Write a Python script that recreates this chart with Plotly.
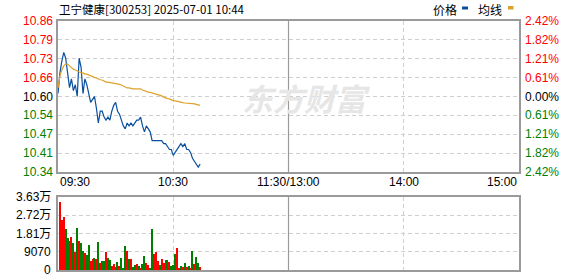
import plotly.graph_objects as go

# ---------------- data ----------------
stock_title = "卫宁健康[300253] 2025-07-01 10:44"
prev_close = 10.60
pct_max = 2.42

# minute index from 09:30 (0) ... 10:44 (74)
price = [10.61, 10.68, 10.72, 10.75, 10.73, 10.68, 10.63, 10.66, 10.62, 10.64,
         10.60, 10.73, 10.70, 10.61, 10.66, 10.64, 10.61, 10.58, 10.59, 10.60,
         10.56, 10.51, 10.55, 10.55, 10.53, 10.52, 10.53, 10.52, 10.55, 10.57,
         10.58, 10.55, 10.54, 10.52, 10.50, 10.49, 10.51, 10.50, 10.51, 10.50,
         10.51, 10.52, 10.52, 10.53, 10.50, 10.48, 10.50, 10.49, 10.48, 10.45,
         10.45, 10.45, 10.45, 10.45, 10.45, 10.44, 10.44, 10.43, 10.42, 10.42,
         10.40, 10.41, 10.42, 10.43, 10.44, 10.43, 10.44, 10.42, 10.42, 10.41,
         10.39, 10.38, 10.37, 10.36, 10.37]

avg_price = [10.629, 10.670, 10.690, 10.704, 10.710, 10.710, 10.704, 10.697, 10.693, 10.690,
             10.687, 10.683, 10.680, 10.680, 10.676, 10.676, 10.673, 10.670, 10.666, 10.665,
             10.663, 10.659, 10.657, 10.656, 10.653, 10.649, 10.649, 10.648, 10.646, 10.646,
             10.644, 10.642, 10.641, 10.639, 10.636, 10.632, 10.629, 10.629, 10.627, 10.626,
             10.626, 10.626, 10.626, 10.626, 10.622, 10.619, 10.617, 10.615, 10.614, 10.612,
             10.610, 10.609, 10.605, 10.604, 10.602, 10.598, 10.595, 10.593, 10.592, 10.588,
             10.586, 10.585, 10.583, 10.581, 10.580, 10.579, 10.578, 10.578, 10.578, 10.578,
             10.576, 10.575, 10.573, 10.571, 10.570]

# volume bars for 09:31 ... 10:44
vol_minutes = list(range(1, 75))
volume = [33970, 24855, 26510, 20380, 16070, 14420, 16570, 13590, 8950, 21040,
          14420, 13260, 9450, 8290, 7460, 12430, 4470, 5470, 6130, 5470,
          14080, 3650, 4470, 4470, 9110, 6130, 4970, 2150, 2980, 1660,
          4140, 2150, 6130, 1160, 12100, 9450, 5470, 5470, 1660, 2490,
          2980, 2150, 1160, 2980, 7130, 3310, 2490, 500, 20380, 7790,
          9110, 4470, 2490, 5470, 3310, 4970, 4970, 4140, 1990, 2490,
          7950, 10770, 1160, 1990, 1660, 3310, 1330, 1990, 1160, 9610,
          3150, 6630, 3310, 1660]
vol_dir = ['R', 'R', 'R', 'G', 'G', 'G', 'R', 'G', 'R', 'G',
           'R', 'G', 'G', 'R', 'G', 'G', 'R', 'R', 'G', 'R',
           'G', 'R', 'G', 'G', 'R', 'G', 'G', 'R', 'R', 'R',
           'G', 'R', 'G', 'G', 'G', 'R', 'G', 'R', 'G', 'G',
           'R', 'G', 'R', 'G', 'G', 'R', 'R', 'G', 'G', 'R',
           'R', 'R', 'G', 'R', 'R', 'G', 'G', 'R', 'G', 'G',
           'G', 'R', 'R', 'G', 'R', 'G', 'R', 'G', 'R', 'G',
           'R', 'G', 'G', 'R']

time_tick_minutes = [0, 60, 120, 180, 240]
time_tick_labels = ['09:30', '10:30', '11:30/13:00', '14:00', '15:00']

price_tick_labels = ['10.86', '10.79', '10.73', '10.66', '10.60', '10.54', '10.47', '10.41', '10.34']
pct_tick_labels = ['2.42%', '1.82%', '1.21%', '0.61%', '0.00%', '0.61%', '1.21%', '1.82%', '2.42%']
pct_tick_fracs = [1, 0.75, 0.5, 0.25, 0, -0.25, -0.5, -0.75, -1]

vol_tick_values = [0, 9070, 18140, 27210, 36280]
vol_tick_labels = ['0', '9070', '1.81万', '2.72万', '3.63万']

legend_names = ['价格', '均线']

# ---------------- styling ----------------
W, H = 578, 276
RED, GREEN, BLACK = '#ff0000', '#008000', '#000000'
BLUE, GOLD = '#0a4f9e', '#dda22a'
FRAME, GRID = '#9a9a9a', '#cfcfcf'
FONT = 'Liberation Sans, Arial, sans-serif'
CJK = 'Noto Sans CJK SC, sans-serif'

def px_x(x):
    return x / W

def px_y(y):
    return 1 - y / H

main_x = [px_x(58), px_x(519)]
main_y = [px_y(172), px_y(21)]
vol_y = [px_y(270), px_y(197)]

y_lo = prev_close * (1 - pct_max / 100)
y_hi = prev_close * (1 + pct_max / 100)
price_tick_values = [prev_close * (1 + f * pct_max / 100) for f in pct_tick_fracs]

fig = go.Figure()
fig.add_trace(go.Scatter(x=list(range(len(price))), y=price, mode='lines',
                         line=dict(color=BLUE, width=1.2), xaxis='x', yaxis='y'))
fig.add_trace(go.Scatter(x=list(range(len(avg_price))), y=avg_price, mode='lines',
                         line=dict(color=GOLD, width=1.2), xaxis='x', yaxis='y'))
fig.add_trace(go.Bar(x=vol_minutes, y=volume, width=0.58,
                     marker=dict(color=[RED if d == 'R' else GREEN for d in vol_dir], line=dict(width=0)),
                     xaxis='x2', yaxis='y2'))

axis_common = dict(showline=True, mirror=True, linecolor=FRAME, linewidth=1.5,
                   ticks='', showticklabels=False, zeroline=False,
                   showgrid=True, gridcolor=GRID, gridwidth=1, griddash='4px,3px')

fig.update_layout(
    width=W, height=H, margin=dict(l=0, r=0, t=0, b=0),
    paper_bgcolor='white', plot_bgcolor='white', showlegend=False,
    bargap=0,
    xaxis=dict(domain=main_x, range=[0, 240], tickvals=time_tick_minutes, anchor='y', **axis_common),
    yaxis=dict(domain=main_y, range=[y_lo, y_hi], tickvals=price_tick_values, anchor='x', **axis_common),
    xaxis2=dict(domain=main_x, range=[0, 240], tickvals=time_tick_minutes, anchor='y2', **axis_common),
    yaxis2=dict(domain=vol_y, range=[0, vol_tick_values[-1]], tickvals=vol_tick_values, anchor='x2', **axis_common),
)

# solid midday separators
for xr, yr in (('x', 'y domain'), ('x2', 'y2 domain')):
    fig.add_shape(type='line', xref=xr, yref=yr, x0=time_tick_minutes[2], x1=time_tick_minutes[2],
                  y0=0, y1=1, line=dict(color=FRAME, width=1.2), layer='above')

ann = []
n = len(price_tick_labels)
mid = n // 2
for k, (v, lab, plab) in enumerate(zip(price_tick_values, price_tick_labels, pct_tick_labels)):
    col = RED if k < mid else (BLACK if k == mid else GREEN)
    ann.append(dict(x=px_x(55), xref='paper', y=v, yref='y', text=lab, showarrow=False,
                    xanchor='right', yanchor='middle', font=dict(family=FONT, size=12, color=col)))
    ann.append(dict(x=px_x(523), xref='paper', y=v, yref='y', text=plab, showarrow=False,
                    xanchor='left', yanchor='middle', font=dict(family=FONT, size=12, color=col)))

for v, lab in zip(vol_tick_values, vol_tick_labels):
    ann.append(dict(x=px_x(53), xref='paper', y=v, yref='y2', text=lab, showarrow=False,
                    xanchor='right', yanchor='middle', font=dict(family=FONT + ', ' + CJK, size=12, color=BLACK)))

for k, (m, lab) in enumerate(zip(time_tick_minutes, time_tick_labels)):
    xa = 'left' if k == 0 else ('right' if k == len(time_tick_minutes) - 1 else 'center')
    ann.append(dict(x=m, xref='x', y=px_y(182), yref='paper', text=lab, showarrow=False,
                    xanchor=xa, yanchor='middle', font=dict(family=FONT, size=12, color=BLACK)))

# title
ann.append(dict(x=px_x(57), xref='paper', y=px_y(9), yref='paper', text=stock_title, showarrow=False,
                xanchor='left', yanchor='middle', font=dict(family=CJK, size=11.5, color=BLACK)))
# legend
ann.append(dict(x=px_x(431), xref='paper', y=px_y(9), yref='paper', text=legend_names[0], showarrow=False,
                xanchor='left', yanchor='middle', font=dict(family=CJK, size=12, color=BLACK)))
ann.append(dict(x=px_x(476), xref='paper', y=px_y(9), yref='paper', text=legend_names[1], showarrow=False,
                xanchor='left', yanchor='middle', font=dict(family=CJK, size=12, color=BLACK)))
fig.add_shape(type='rect', xref='paper', yref='paper', x0=px_x(462), x1=px_x(468), y0=px_y(9.5), y1=px_y(6.5),
              fillcolor=BLUE, line=dict(width=0))
fig.add_shape(type='rect', xref='paper', yref='paper', x0=px_x(508), x1=px_x(513.5), y0=px_y(9.5), y1=px_y(6),
              fillcolor=GOLD, line=dict(width=0))

# watermark
ann.append(dict(x=px_x(306), xref='paper', y=px_y(97), yref='paper', text='<b><i>东方财富</i></b>', showarrow=False,
                xanchor='center', yanchor='middle', font=dict(family=CJK, size=31, color='#e6e6e6')))

fig.update_layout(annotations=ann)
fig.write_html("out.html")
